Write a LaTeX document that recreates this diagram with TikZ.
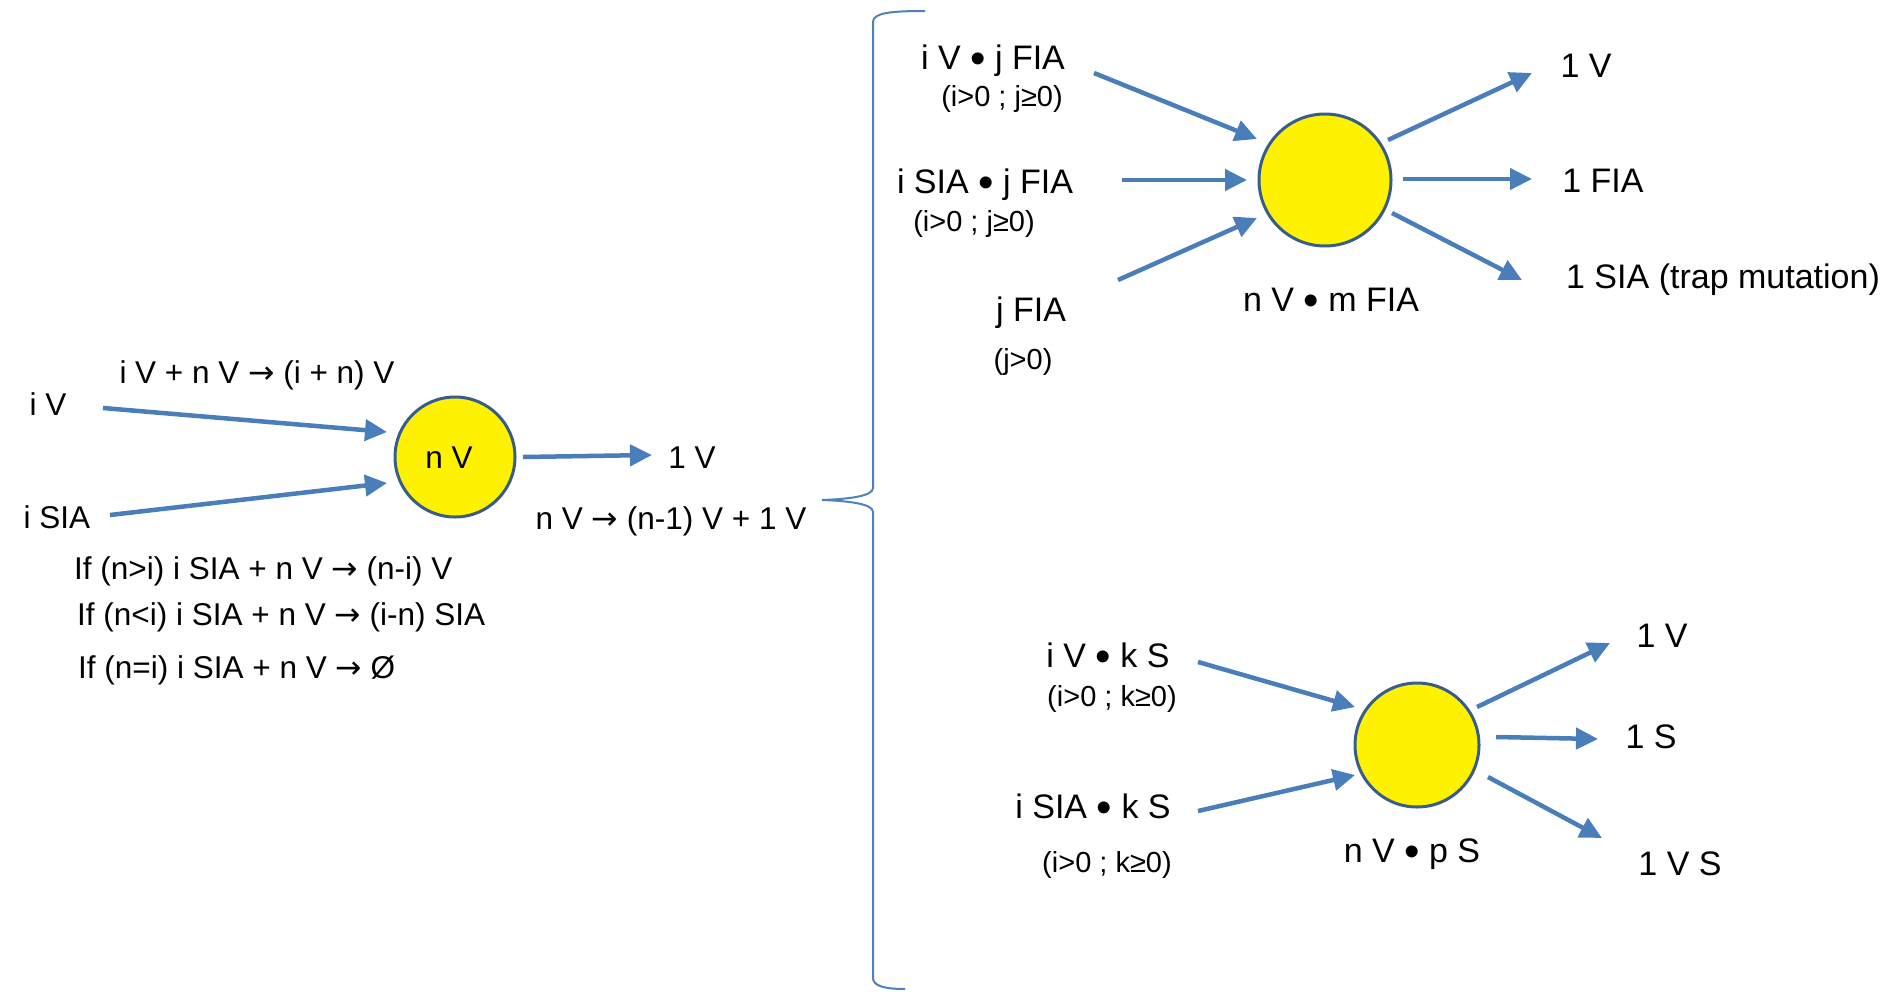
\documentclass[tikz,border=0pt]{standalone}
\usepackage{fontspec}
\setmainfont{Liberation Sans}
\newfontfamily\symfont{DejaVu Sans}
\usetikzlibrary{arrows.meta}
\definecolor{arrowblue}{RGB}{74,126,187}
\definecolor{rimblue}{RGB}{56,93,138}
\definecolor{braceblue}{RGB}{79,129,189}
% reaction arrow and cluster bullet used inside the labels
\newcommand{\yields}{{\symfont →}}
\newcommand{\blt}{\raisebox{-4pt}{\fontsize{44}{44}\selectfont •}}

\begin{document}
\begin{tikzpicture}[x=1pt,y=-1pt,
  flow/.style={draw=arrowblue,line width=4.5pt,-{Triangle[length=22pt,width=21pt]}},
  cluster/.style={circle,draw=rimblue,line width=3pt,fill=yellow,inner sep=0pt},
  lab/.style={font=\fontsize{31.5}{38}\selectfont,inner sep=0pt,anchor=base},
  labw/.style={lab,anchor=base west},
  big/.style={font=\fontsize{34}{40}\selectfont,inner sep=0pt,anchor=base},
  cond/.style={font=\fontsize{29}{35}\selectfont,inner sep=0pt,anchor=base},
]
\useasboundingbox (0,0) rectangle (1895,991);

% ---------- single vacancy cluster ----------
\node[cluster,minimum size=120pt] (nV) at (455,457) {};
\node[lab] (nVt) at (449,468) {n V};
\node[lab] (iV) at (48,415) {i V};
\node[lab] (iSIA) at (57,528) {i SIA};
\node[lab] (r1) at (257,383) {i V + n V \yields{} (i + n) V};
\node[labw] (r2) at (74,579) {If (n>i) i SIA + n V \yields{} (n-i) V};
\node[labw] (r3) at (77,625) {If (n<i) i SIA + n V \yields{} (i-n) SIA};
\node[labw] (r4) at (78,678) {If (n=i) i SIA + n V \yields{} Ø};
\node[lab] (oneV) at (692,468) {1 V};
\node[lab] (emit) at (671,529) {n V \yields{} (n-1) V + 1 V};

\coordinate (a1s) at (103,408); \coordinate (a1e) at (387,432);
\coordinate (a2s) at (110,515); \coordinate (a2e) at (387,483);
\coordinate (a3s) at (523,457); \coordinate (a3e) at (652,455);
\draw[flow] (a1s) -- (a1e);
\draw[flow] (a2s) -- (a2e);
\draw[flow] (a3s) -- (a3e);

% ---------- brace ----------
\draw[braceblue,line width=2pt]
  (925,11) .. controls (890,11) and (873,13) .. (873,22)
  -- (873,488) .. controls (873,496) and (850,499) .. (822,500)
  .. controls (850,501) and (873,504) .. (873,512)
  -- (873,978) .. controls (873,986) and (885,989) .. (905,989);

% ---------- mixed V / FIA cluster ----------
\node[cluster,minimum size=132pt] (fia) at (1325,180) {};
\node[big] (fiaT) at (1331,311) {n V \blt{} m FIA};
\node[big] (in1) at (993,69) {i V \blt{} j FIA};
\node[cond] (in1c) at (1002,106) {(i>0 ; j≥0)};
\node[big] (in2) at (985,193) {i SIA \blt{} j FIA};
\node[cond] (in2c) at (974,231) {(i>0 ; j≥0)};
\node[big] (in3) at (1031,321) {j FIA};
\node[cond] (in3c) at (1023,369) {(j>0)};
\node[big] (out1) at (1586,77) {1 V};
\node[big] (out2) at (1603,192) {1 FIA};
\node[big] (out3) at (1723,288) {1 SIA (trap mutation)};

\coordinate (b1s) at (1094,73);  \coordinate (b1e) at (1257,139);
\coordinate (b2s) at (1122,180); \coordinate (b2e) at (1247,180);
\coordinate (b3s) at (1118,280); \coordinate (b3e) at (1257,218);
\coordinate (c1s) at (1388,140); \coordinate (c1e) at (1532,73);
\coordinate (c2s) at (1403,179); \coordinate (c2e) at (1532,179);
\coordinate (c3s) at (1392,213); \coordinate (c3e) at (1522,280);
\foreach \p in {b1,b2,b3,c1,c2,c3} \draw[flow] (\p s) -- (\p e);

% ---------- V / solute cluster ----------
\node[cluster,minimum size=124pt] (sol) at (1417,745) {};
\node[big] (solT) at (1412,862) {n V \blt{} p S};
\node[big] (s1) at (1108,667) {i V \blt{} k S};
\node[cond] (s1c) at (1112,706) {(i>0 ; k≥0)};
\node[big] (s2) at (1093,818) {i SIA \blt{} k S};
\node[cond] (s2c) at (1107,872) {(i>0 ; k≥0)};
\node[big] (t1) at (1662,647) {1 V};
\node[big] (t2) at (1651,748) {1 S};
\node[big] (t3) at (1680,875) {1 V S};

\coordinate (d1s) at (1198,662); \coordinate (d1e) at (1355,707);
\coordinate (d2s) at (1198,811); \coordinate (d2e) at (1355,775);
\coordinate (e1s) at (1477,707); \coordinate (e1e) at (1610,643);
\coordinate (e2s) at (1496,737); \coordinate (e2e) at (1598,739);
\coordinate (e3s) at (1488,777); \coordinate (e3e) at (1602,838);
\foreach \p in {d1,d2,e1,e2,e3} \draw[flow] (\p s) -- (\p e);
\end{tikzpicture}
\end{document}
